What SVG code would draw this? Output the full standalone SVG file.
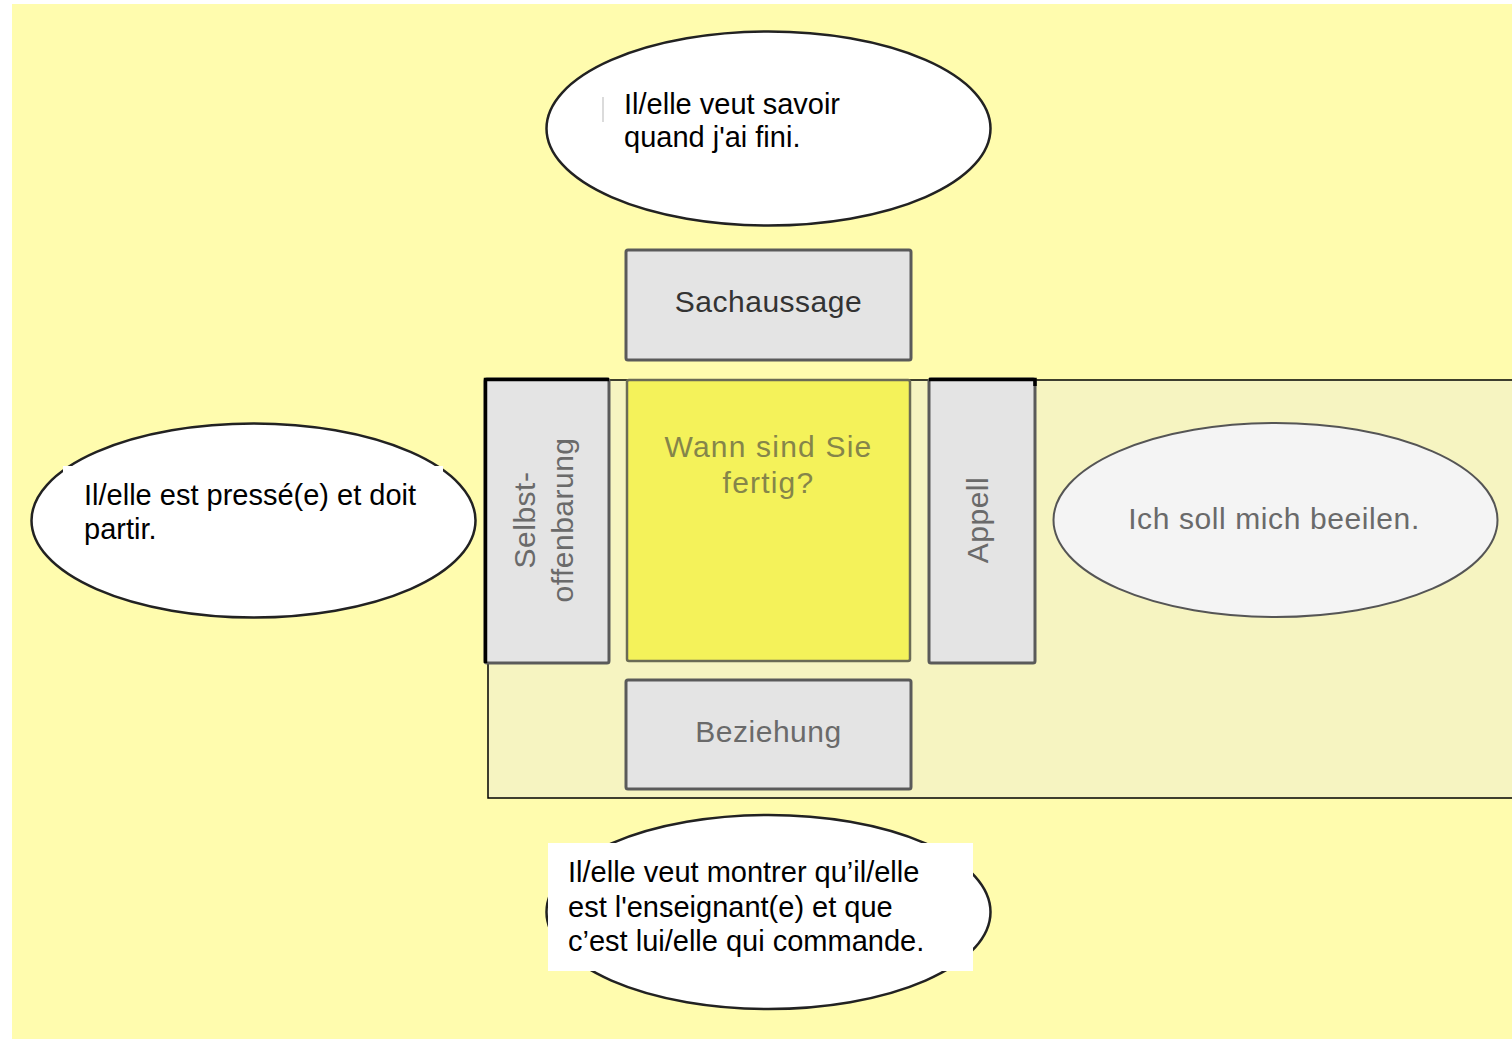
<svg xmlns="http://www.w3.org/2000/svg" width="1512" height="1040" viewBox="0 0 1512 1040">
<defs>
<style>
.bubble{fill:#ffffff;stroke:#222;stroke-width:2.5}
.box{fill:#e4e4e4;stroke:#5a5a5a;stroke-width:3}
.dark{font-family:"Liberation Sans",Arial,sans-serif;font-size:29px;fill:#000}
.grey{font-family:"Liberation Sans",Arial,sans-serif;font-size:30px;fill:#6a6a6a;letter-spacing:0.5px}
</style>
</defs>
<rect x="0" y="0" width="1512" height="1040" fill="#ffffff"/>
<rect x="12" y="4" width="1500" height="1035" fill="#fffcae"/>
<rect id="frame" x="488" y="380" width="1030" height="418" fill="#f6f4c1" stroke="#000" stroke-width="1.5"/>
<g id="connectors"></g>
<g id="bubble-top">
<ellipse class="bubble" cx="768.5" cy="128.5" rx="222" ry="97"/>
<line x1="603" y1="97" x2="603" y2="122" stroke="#cfcfcf" stroke-width="1.5"/>
<text class="dark" x="624" y="114">Il/elle veut savoir</text>
<text class="dark" x="624" y="147">quand j'ai fini.</text>
</g>
<g id="sachaussage">
<rect class="box" x="626" y="250" width="285" height="110" rx="2" stroke="#1e1e1e"/>
<text class="grey" x="768.5" y="312" text-anchor="middle" fill="#333" style="fill:#333">Sachaussage</text>
</g>
<g id="selbstoffenbarung">
<rect class="box" x="485" y="379" width="124" height="284" rx="2"/>
<path d="M485.5 663 V379.5 H609" fill="none" stroke="#000" stroke-width="3.5"/>
<text class="grey" transform="translate(535 520) rotate(-90)" text-anchor="middle">Selbst-</text>
<text class="grey" transform="translate(573 520) rotate(-90)" text-anchor="middle">offenbarung</text>
</g>
<g id="message">
<rect x="627" y="380" width="283" height="281" rx="2" fill="#f4f25a" stroke="#6b6b55" stroke-width="2.5"/>
<text class="grey" x="768.5" y="457" text-anchor="middle" style="fill:#85854a;letter-spacing:1.2px">Wann sind Sie</text>
<text class="grey" x="768.5" y="493" text-anchor="middle" style="fill:#85854a;letter-spacing:1.2px">fertig?</text>
</g>
<g id="appell">
<rect class="box" x="929" y="379" width="106" height="284" rx="2"/>
<path d="M929 379.5 H1035 V386" fill="none" stroke="#000" stroke-width="3.5"/>
<text class="grey" transform="translate(988 520) rotate(-90)" text-anchor="middle">Appell</text>
</g>
<g id="beziehung">
<rect class="box" x="626" y="680" width="285" height="109" rx="2"/>
<text class="grey" x="768.5" y="742" text-anchor="middle">Beziehung</text>
</g>
<g id="bubble-left">
<ellipse class="bubble" cx="253.5" cy="520.5" rx="222" ry="97"/>
<rect x="63" y="466" width="380" height="90" fill="#ffffff"/>
<text class="dark" x="84" y="505">Il/elle est pressé(e) et doit</text>
<text class="dark" x="84" y="539">partir.</text>
</g>
<g id="bubble-right">
<ellipse cx="1275.5" cy="520" rx="222" ry="97" fill="#f4f4f4" stroke="#555" stroke-width="2"/>
<text class="grey" x="1274" y="529" text-anchor="middle" style="letter-spacing:0.6px">Ich soll mich beeilen.</text>
</g>
<g id="bubble-bottom">
<ellipse class="bubble" cx="768.5" cy="912" rx="222" ry="97"/>
<rect x="548" y="843" width="425" height="128" fill="#ffffff"/>
<text class="dark" x="568" y="882">Il/elle veut montrer qu’il/elle</text>
<text class="dark" x="568" y="917">est l'enseignant(e) et que</text>
<text class="dark" x="568" y="951">c’est lui/elle qui commande.</text>
</g>
</svg>
